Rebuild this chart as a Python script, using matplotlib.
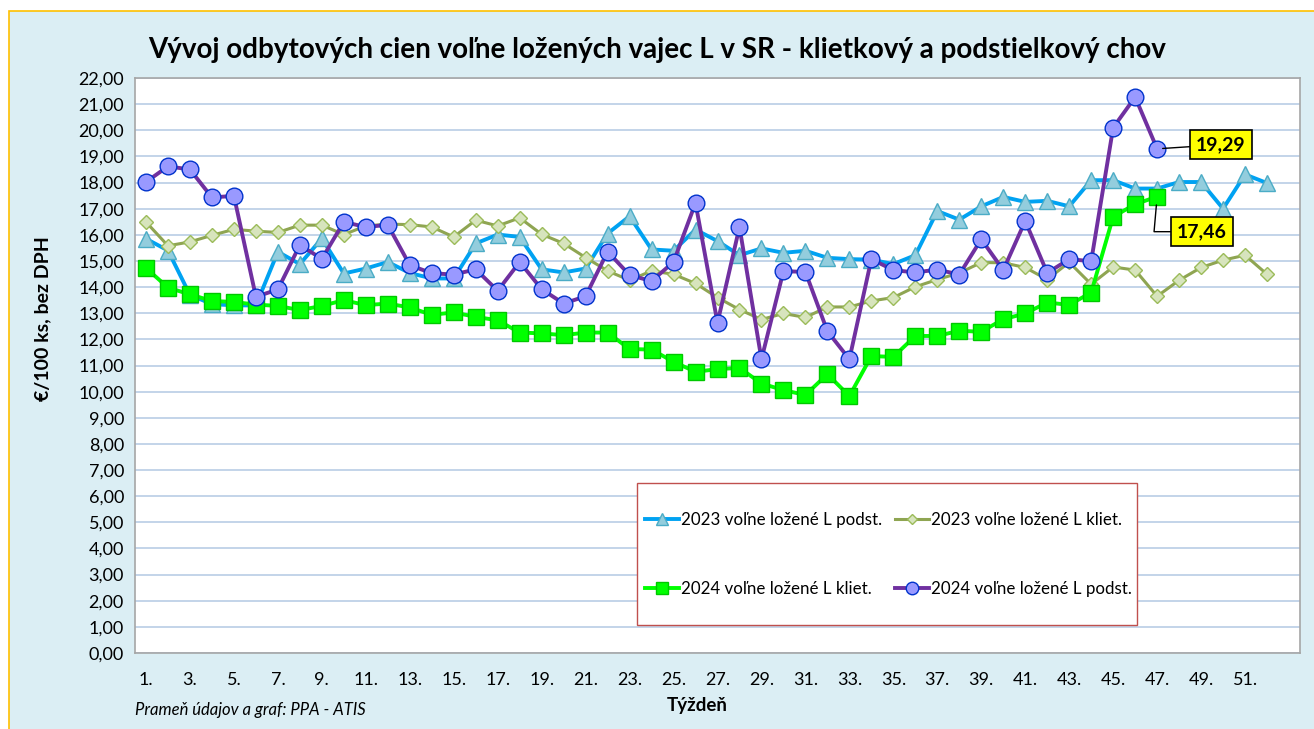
import matplotlib
matplotlib.use("Agg")
import matplotlib.pyplot as plt
from matplotlib.patches import Rectangle

plt.rcParams['font.family'] = ['Lato', 'DejaVu Sans']

weeks = list(range(1, 53))
tick_labels = [f"{w}." for w in range(1, 53, 2)]

podst_2023 = [15.85, 15.40, 13.70, 13.35, 13.30, 13.30, 15.35, 14.88, 15.86, 14.52,
              14.71, 14.96, 14.54, 14.33, 14.33, 15.67, 16.01, 15.92, 14.68, 14.56,
              14.71, 16.05, 16.71, 15.44, 15.39, 16.20, 15.76, 15.22, 15.48, 15.31,
              15.39, 15.12, 15.07, 15.05, 14.88, 15.22, 16.91, 16.58, 17.09, 17.45,
              17.26, 17.30, 17.09, 18.09, 18.09, 17.77, 17.77, 18.02, 18.02, 17.00,
              18.31, 17.98]

kliet_2023 = [16.49, 15.58, 15.73, 15.98, 16.21, 16.14, 16.09, 16.37, 16.37, 16.01,
              16.34, 16.41, 16.39, 16.30, 15.92, 16.56, 16.34, 16.65, 16.02, 15.67,
              15.13, 14.62, 14.26, 14.62, 14.49, 14.14, 13.60, 13.14, 12.76, 12.99,
              12.84, 13.24, 13.24, 13.47, 13.60, 14.01, 14.29, 14.54, 14.94, 14.93,
              14.75, 14.29, 14.95, 14.11, 14.77, 14.65, 13.65, 14.26, 14.75, 15.03,
              15.22, 14.49]

kliet_2024 = [14.73, 13.98, 13.72, 13.47, 13.43, 13.33, 13.28, 13.12, 13.28, 13.50,
              13.31, 13.37, 13.22, 12.94, 13.03, 12.86, 12.73, 12.26, 12.23, 12.16,
              12.26, 12.26, 11.63, 11.61, 11.14, 10.76, 10.86, 10.91, 10.31, 10.06,
              9.87, 10.67, 9.83, 11.36, 11.33, 12.13, 12.13, 12.33, 12.29, 12.77,
              12.99, 13.41, 13.32, 13.79, 16.69, 17.17, 17.46]

podst_2024 = [18.02, 18.62, 18.50, 17.43, 17.49, 13.63, 13.91, 15.61, 15.08, 16.49,
              16.30, 16.38, 14.84, 14.53, 14.48, 14.68, 13.86, 14.96, 13.92, 13.37,
              13.65, 15.36, 14.46, 14.23, 14.96, 17.22, 12.63, 16.30, 11.24, 14.61,
              14.58, 12.31, 11.24, 15.07, 14.65, 14.56, 14.67, 14.48, 15.83, 14.65,
              16.53, 14.54, 15.07, 14.99, 20.10, 21.27, 19.29]

labels = ["2023 voľne ložené L podst.", "2023 voľne ložené L kliet.",
          "2024 voľne ložené L kliet.", "2024 voľne ložené L podst."]

W, H = 1314, 729
fig = plt.figure(figsize=(W / 100, H / 100), dpi=100)
fig.patch.set_facecolor("white")

def fx(px):
    return px / W

def fy(py):
    return 1 - py / H

# background panel
fig.patches.append(Rectangle((fx(9), fy(740)), fx(1320) - fx(9), fy(11) - fy(740),
                             transform=fig.transFigure, facecolor="#DBEEF4",
                             edgecolor="#FFC000", linewidth=1.2, zorder=0))

L, R, T, B = 135, 1300, 78, 653
ax = fig.add_axes([fx(L), fy(B), fx(R) - fx(L), fy(T) - fy(B)])
ax.set_zorder(2)
ax.set_facecolor("white")
ax.set_xlim(0.5, 53.5)
ax.set_ylim(0, 22)

ax.set_yticks(range(0, 23))
ax.set_yticklabels([f"{v},00" for v in range(0, 23)], fontsize=13)
ax.set_xticks(range(1, 53, 2))
ax.set_xticklabels(tick_labels, fontsize=13)
ax.tick_params(axis='both', length=0, pad=8)
ax.tick_params(axis='x', pad=14)
ax.grid(axis='y', color="#B9CDE5", linewidth=1.2)
ax.set_axisbelow(True)
for s in ax.spines.values():
    s.set_color("#A6A6A6")
    s.set_linewidth(1.2)

h1, = ax.plot(weeks, podst_2023, color="#00A2F2", lw=2.8, marker="^", ms=11,
              mfc="#93CDDD", mec="#4BACC6", mew=1.0, zorder=3)
h2, = ax.plot(weeks, kliet_2023, color="#8FA552", lw=2.2, marker="D", ms=7,
              mfc="#D7E4BD", mec="#9BBB59", mew=1.0, zorder=4)
h3, = ax.plot(range(1, len(kliet_2024) + 1), kliet_2024, color="#00FF00", lw=2.8,
              marker="s", ms=11, mfc="#00FF00", mec="#00C800", mew=1.0, zorder=5)
h4, = ax.plot(range(1, len(podst_2024) + 1), podst_2024, color="#7030A0", lw=2.8,
              marker="o", ms=12, mfc="#9999FF", mec="#0033CC", mew=1.0, zorder=6)

# annotations
last_p = len(podst_2024)
ax.annotate(f"{podst_2024[-1]:.2f}".replace(".", ","), xy=(last_p, podst_2024[-1]),
            xytext=(last_p + 2.9, 19.45), fontsize=14, fontweight="bold",
            ha="center", va="center", zorder=10,
            bbox=dict(boxstyle="square,pad=0.3", fc="#FFFF00", ec="black", lw=1.2),
            arrowprops=dict(arrowstyle="-", color="black", lw=1,
                            shrinkA=0, shrinkB=4))
last_k = len(kliet_2024)
ax.annotate(f"{kliet_2024[-1]:.2f}".replace(".", ","), xy=(last_k, kliet_2024[-1]),
            xytext=(last_k + 2.05, 16.12), fontsize=14, fontweight="bold",
            ha="center", va="center", zorder=10,
            bbox=dict(boxstyle="square,pad=0.3", fc="#FFFF00", ec="black", lw=1.2),
            arrowprops=dict(arrowstyle="-", color="black", lw=1,
                            connectionstyle="angle,angleA=0,angleB=85,rad=0",
                            shrinkA=0, shrinkB=6))

# legend frame
fig.patches.append(Rectangle((fx(637), fy(625)), fx(1137) - fx(637), fy(483) - fy(625),
                             transform=fig.transFigure, facecolor="white",
                             edgecolor="#C0504D", linewidth=1.0, zorder=8))
leg = fig.legend([h1, h3, h2, h4], [labels[0], labels[2], labels[1], labels[3]],
                 ncol=2, loc="upper left", bbox_to_anchor=(fx(645), fy(512)),
                 frameon=False, fontsize=12.2, handlelength=2.0, handletextpad=0.12,
                 columnspacing=0.75, labelspacing=3.15, markerscale=0.75,
                 borderpad=0, borderaxespad=0)
leg.set_zorder(9)

fig.text(fx(657), fy(50), "Vývoj odbytových cien voľne ložených vajec L v SR - klietkový a podstielkový chov",
         ha="center", va="center", fontsize=20, fontweight="bold")
fig.text(fx(43), fy(319), "€/100 ks, bez DPH", rotation=90, ha="center", va="center",
         fontsize=14, fontweight="bold")
fig.text(fx(697), fy(705), "Týždeň", ha="center", va="center", fontsize=13.5,
         fontweight="bold")
fig.text(fx(135), fy(710), "Prameň údajov a graf: PPA - ATIS", ha="left", va="center",
         fontsize=12, style="italic")

fig.savefig("out.png", dpi=100)
